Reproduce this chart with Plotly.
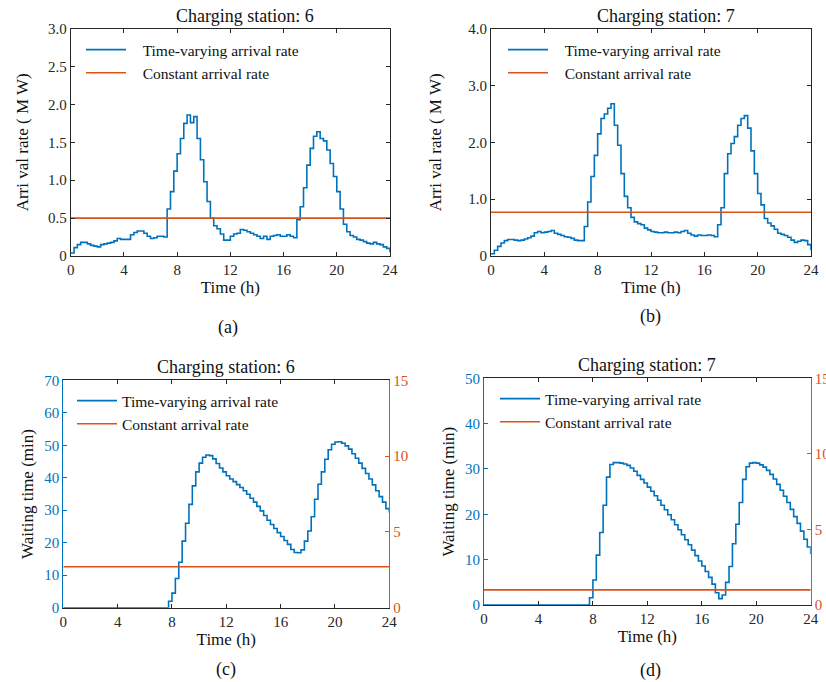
import numpy as np
import plotly.graph_objects as go

# ---------------- data ----------------
hours = np.arange(0, 24.0001, 0.25)  # 15-min grid, 97 points (last = end of day)

rate_cs6 = [
    0.04, 0.11, 0.15, 0.18,
    0.18, 0.16, 0.14, 0.13,
    0.12, 0.15, 0.16, 0.17,
    0.18, 0.20, 0.23, 0.22,
    0.22, 0.22, 0.28, 0.31,
    0.33, 0.33, 0.30, 0.26,
    0.23, 0.24, 0.26, 0.26,
    0.25, 0.62, 0.85, 1.12,
    1.35, 1.55, 1.75, 1.86,
    1.76, 1.84, 1.55, 1.27,
    0.98, 0.72, 0.50, 0.40,
    0.36, 0.29, 0.21, 0.21,
    0.26, 0.29, 0.30, 0.35,
    0.34, 0.32, 0.30, 0.28,
    0.26, 0.23, 0.26, 0.22,
    0.26, 0.27, 0.28, 0.26,
    0.26, 0.28, 0.26, 0.24,
    0.48, 0.65, 0.90, 1.20,
    1.42, 1.58, 1.64, 1.55,
    1.52, 1.40, 1.22, 1.05,
    0.85, 0.62, 0.42, 0.32,
    0.27, 0.25, 0.22, 0.21,
    0.19, 0.17, 0.16, 0.18,
    0.16, 0.15, 0.12, 0.10,
    0.05,
]

rate_cs7 = [
    0.04, 0.10, 0.17, 0.23,
    0.27, 0.29, 0.29, 0.28,
    0.27, 0.28, 0.30, 0.32,
    0.35, 0.41, 0.43, 0.41,
    0.42, 0.43, 0.45, 0.40,
    0.38, 0.36, 0.34, 0.33,
    0.31, 0.28, 0.27, 0.27,
    0.52, 0.95, 1.40, 1.77,
    2.15, 2.42, 2.50, 2.60,
    2.68, 2.30, 1.95, 1.45,
    1.05, 0.85, 0.68, 0.60,
    0.57, 0.55, 0.49, 0.46,
    0.43, 0.42, 0.41, 0.41,
    0.42, 0.41, 0.41, 0.42,
    0.41, 0.43, 0.45, 0.40,
    0.37, 0.35, 0.37, 0.36,
    0.36, 0.37, 0.36, 0.34,
    0.55, 0.85, 1.45, 1.80,
    1.98, 2.10, 2.30, 2.42,
    2.47, 2.25, 1.85, 1.45,
    1.10, 0.90, 0.66, 0.58,
    0.53, 0.47, 0.40, 0.38,
    0.36, 0.33, 0.28, 0.24,
    0.26, 0.28, 0.27, 0.20,
    0.10,
]

wait_cs6 = [
    0, 0, 0, 0,
    0, 0, 0, 0,
    0, 0, 0, 0,
    0, 0, 0, 0,
    0, 0, 0, 0,
    0, 0, 0, 0,
    0, 0, 0, 0,
    0, 0, 0, 2.0,
    4.5, 9.0, 14.0, 20.5,
    26.0, 31.8, 37.5, 41.8,
    44.5, 46.3, 47.0, 46.8,
    45.8, 44.4, 43.0, 41.8,
    40.6, 39.6, 38.8, 37.9,
    37.0, 36.0, 34.9, 33.7,
    32.5, 31.2, 29.8, 28.4,
    26.9, 25.6, 24.4, 23.1,
    21.9, 20.7, 19.5, 17.9,
    17.0, 16.9, 17.8, 20.5,
    23.6, 28.0, 33.4, 38.0,
    41.8, 45.7, 48.6, 50.3,
    51.0, 51.1, 50.6, 49.8,
    48.8, 47.4, 46.0, 44.5,
    42.9, 41.3, 39.6, 37.8,
    36.0, 34.2, 32.5, 30.5,
    29.3,
]

wait_cs7 = [
    0, 0, 0, 0,
    0, 0, 0, 0,
    0, 0, 0, 0,
    0, 0, 0, 0,
    0, 0, 0, 0,
    0, 0, 0, 0,
    0, 0, 0, 0,
    0, 0, 0, 1.6,
    5.5, 11.0, 16.0, 22.0,
    28.2, 31.0, 31.4, 31.4,
    31.3, 31.1, 30.8, 30.2,
    29.5, 28.6, 27.7, 26.9,
    26.0, 25.1, 24.1, 23.1,
    22.0, 21.0, 19.9, 18.8,
    17.7, 16.6, 15.5, 14.4,
    13.3, 12.1, 10.9, 9.7,
    8.6, 7.4, 6.1, 4.6,
    2.7, 1.4, 2.2, 5.0,
    8.5, 13.5, 17.8, 22.6,
    27.7, 30.5, 31.3, 31.4,
    31.3, 30.9, 30.4, 29.7,
    28.8, 27.8, 26.6, 25.3,
    24.0, 22.6, 21.1, 19.5,
    18.0, 16.3, 14.5, 12.8,
    11.2,
]

const_rate_cs6 = 0.5    # MW
const_rate_cs7 = 0.77   # MW
const_wait_cs6 = 2.7    # right axis
const_wait_cs7 = 1.0    # right axis

x_ticks = [0, 4, 8, 12, 16, 20, 24]
ya_ticks = [0, 0.5, 1.0, 1.5, 2.0, 2.5, 3.0]
ya_text = ["0", "0.5", "1.0", "1.5", "2.0", "2.5", "3.0"]
yb_ticks = [0, 1.0, 2.0, 3.0, 4.0]
yb_text = ["0", "1.0", "2.0", "3.0", "4.0"]
yc_ticks = [0, 10, 20, 30, 40, 50, 60, 70]
yd_ticks = [0, 10, 20, 30, 40, 50]
yr_ticks = [0, 5, 10, 15]

name_tv = "Time-varying arrival rate"
name_c = "Constant arrival rate"
titles = ["Charging station: 6", "Charging station: 7", "Charging station: 6", "Charging station: 7"]
panel_labels = ["(a)", "(b)", "(c)", "(d)"]

# ---------------- style ----------------
BLUE = "#0072BD"
ORANGE = "#D95319"
AX = "#262626"
FONT = "Times New Roman, Liberation Serif, serif"
W, H = 826, 682
GAP = "\u00a0\u00a0\u00a0"  # wider gap between legend line and text in (a), (b)

def px_x(v):
    return v / W

def px_y(v):
    return 1 - v / H

fig = go.Figure()

def add_panel(xa, ya, ya_const, leg, series, const_val, gap=""):
    fig.add_trace(go.Scatter(x=hours, y=series, mode="lines", line=dict(color=BLUE, width=1.6, shape="hv"),
                             name=gap + name_tv, xaxis=xa, yaxis=ya, legend=leg))
    fig.add_trace(go.Scatter(x=[0, 24], y=[const_val] * 2, mode="lines", line=dict(color=ORANGE, width=1.6),
                             name=gap + name_c, xaxis=xa, yaxis=ya_const, legend=leg))

add_panel("x", "y", "y", "legend", rate_cs6, const_rate_cs6, GAP)
add_panel("x2", "y2", "y2", "legend2", rate_cs7, const_rate_cs7, GAP)
add_panel("x3", "y3", "y5", "legend3", wait_cs6, const_wait_cs6)
add_panel("x4", "y4", "y6", "legend4", wait_cs7, const_wait_cs7)

tickfont = dict(family=FONT, size=15, color=AX)
titlefont = dict(family=FONT, size=17, color="#111111")

def xax(dom, anchor):
    return dict(domain=dom, anchor=anchor, range=[0, 24], tickvals=x_ticks, ticks="inside", ticklen=4,
                tickcolor=AX, showline=True, linecolor=AX, linewidth=1, mirror="ticks", showgrid=False,
                zeroline=False, tickfont=tickfont, automargin=False,
                title=dict(text="Time (h)", font=titlefont, standoff=4))

def yax(dom, anchor, rng, tv, tt, title, color=AX, mirror="ticks", standoff=6):
    return dict(domain=dom, anchor=anchor, range=rng, tickvals=tv, ticktext=tt, ticks="inside", ticklen=4,
                tickcolor=color, showline=True, linecolor=color, linewidth=1, mirror=mirror, showgrid=False,
                zeroline=False, tickfont=dict(family=FONT, size=15, color=color), automargin=False,
                title=dict(text=title, font=titlefont, standoff=standoff))

def yright(over, anchor):
    return dict(overlaying=over, side="right", anchor=anchor, range=[0, 15], tickvals=yr_ticks, ticks="inside",
                ticklen=4, tickcolor=ORANGE, showline=True, linecolor=ORANGE, linewidth=1, showgrid=False,
                zeroline=False, automargin=False, tickfont=dict(family=FONT, size=15, color=ORANGE))

xa = [px_x(70.7), px_x(390)]
xb = [px_x(491), px_x(811)]
xc = [px_x(63.3), px_x(389.3)]
xd = [px_x(484), px_x(810.7)]
ytop = [px_y(256), px_y(28.7)]
yc = [px_y(607.7), px_y(380.3)]
yd = [px_y(605), px_y(378.3)]

legend_common = dict(bgcolor="rgba(0,0,0,0)", borderwidth=0, font=dict(family=FONT, size=15.5, color="#111111"),
                     itemwidth=40, tracegroupgap=0, xanchor="left", yanchor="top", itemclick=False)

fig.update_layout(
    width=W, height=H,
    margin=dict(l=0, r=0, t=0, b=0),
    paper_bgcolor="white", plot_bgcolor="white",
    showlegend=True,
    xaxis=xax(xa, "y"),
    yaxis=yax(ytop, "x", [0, 3.0], ya_ticks, ya_text, "Arri val rate ( M W)", standoff=14),
    xaxis2=xax(xb, "y2"),
    yaxis2=yax(ytop, "x2", [0, 4.0], yb_ticks, yb_text, "Arri val rate ( M W)", standoff=22),
    xaxis3=xax(xc, "y3"),
    yaxis3=yax(yc, "x3", [0, 70], yc_ticks, [str(v) for v in yc_ticks], "Waiting time (min)", color=BLUE, mirror=False),
    xaxis4=xax(xd, "y4"),
    yaxis4=yax(yd, "x4", [0, 50], yd_ticks, [str(v) for v in yd_ticks], "Waiting time (min)", color=BLUE, mirror=False),
    yaxis5=yright("y3", "x3"),
    yaxis6=yright("y4", "x4"),
    legend=dict(x=px_x(81), y=px_y(33), **legend_common),
    legend2=dict(x=px_x(503), y=px_y(33), **legend_common),
    legend3=dict(x=px_x(72), y=px_y(384), **legend_common),
    legend4=dict(x=px_x(495), y=px_y(382), **legend_common),
)
fig.update_yaxes(title_font_color="#111111")

title_pos = [(245, 16), (666, 16), (226, 367), (647, 365)]
label_pos = [(228, 327), (650, 316), (226, 669), (650, 670)]
anns = []
for txt, (x, y) in zip(titles, title_pos):
    anns.append(dict(text=txt, x=px_x(x), y=px_y(y), xref="paper", yref="paper", showarrow=False,
                     xanchor="center", yanchor="middle", font=dict(family=FONT, size=18, color="#111111")))
for txt, (x, y) in zip(panel_labels, label_pos):
    anns.append(dict(text=txt, x=px_x(x), y=px_y(y), xref="paper", yref="paper", showarrow=False,
                     xanchor="center", yanchor="middle", font=dict(family=FONT, size=18, color="#111111")))
fig.update_layout(annotations=anns)

fig.write_html("out.html", config={"displayModeBar": False},
               post_script="document.body.style.margin='0px';")
